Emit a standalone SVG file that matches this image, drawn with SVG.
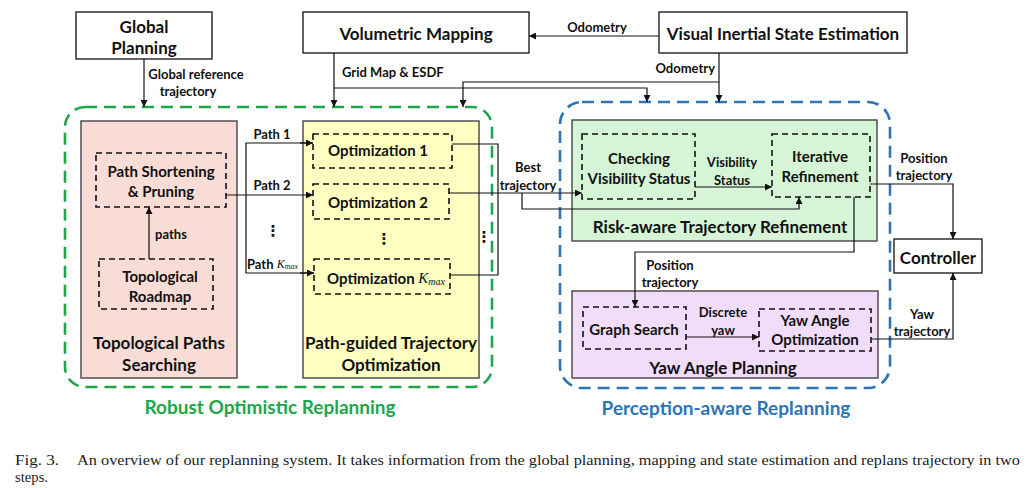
<svg xmlns="http://www.w3.org/2000/svg" width="1030" height="488" viewBox="0 0 1030 488">
<defs>
<marker id="ah" viewBox="0 0 10 10" refX="10" refY="5" markerWidth="7" markerHeight="7" markerUnits="userSpaceOnUse" orient="auto">
<path d="M0,0 L10,5 L0,10 z" fill="#111"/>
</marker>
</defs>
<style>
text{font-family:Lato,"Open Sans","Liberation Sans",sans-serif;font-weight:bold;fill:#111;text-anchor:middle;dominant-baseline:central}
.big{font-size:17px}
.grpt{font-size:19px}
.mid{font-size:15px}
.lab{font-size:13px}
.box{fill:#fff;stroke:#222;stroke-width:1.4}
.dash{fill:none;stroke:#111;stroke-width:1.6;stroke-dasharray:6 4}
.area{stroke:#444;stroke-width:1.4}
.con{fill:none;stroke:#111;stroke-width:1.2}
.arr{marker-end:url(#ah)}
.grp{fill:none;stroke-width:2.6;stroke-dasharray:12 7}
.dots{font-family:"DejaVu Sans",sans-serif;font-size:15px}
.cap{font-family:"Liberation Serif","Times New Roman",serif;font-weight:normal;font-size:15.5px;text-anchor:start;dominant-baseline:alphabetic;fill:#222}
.sym{font-family:"Liberation Serif",serif;font-style:italic;font-weight:normal}
</style>

<g id="robust-group">
<rect x="65" y="107" width="427" height="280" rx="20" class="grp" stroke="#1fa64b"/>
<text x="270" y="406" class="grpt" style="fill:#1fa64b">Robust Optimistic Replanning</text>
</g>
<g id="perception-group">
<rect x="560" y="102" width="330" height="286" rx="22" class="grp" stroke="#2e75b6"/>
<text x="726" y="407" class="grpt" style="fill:#2e75b6">Perception-aware Replanning</text>
</g>

<g id="global-planning">
<rect x="76" y="12" width="136" height="47" class="box"/>
<text x="144" y="26" class="big">Global</text>
<text x="144" y="47" class="big">Planning</text>
</g>
<g id="volumetric-mapping">
<rect x="303" y="12" width="226" height="41" class="box"/>
<text x="416" y="33" class="big">Volumetric Mapping</text>
</g>
<g id="vise">
<rect x="659" y="12" width="248" height="41" class="box"/>
<text x="783" y="33" class="big">Visual Inertial State Estimation</text>
</g>
<g id="controller">
<rect x="894" y="239" width="88" height="34" class="box"/>
<text x="938" y="257" class="big">Controller</text>
</g>

<g id="topological-paths-searching">
<rect x="81" y="121" width="156" height="257" class="area" fill="#f8dcd5"/>
<text x="159" y="342" class="big">Topological Paths</text>
<text x="159" y="364" class="big">Searching</text>
</g>
<g id="path-shortening">
<rect x="96" y="153" width="130" height="54" class="dash"/>
<text x="161" y="171" class="mid">Path Shortening</text>
<text x="161" y="191" class="mid">&amp; Pruning</text>
</g>
<g id="topological-roadmap">
<rect x="99" y="259" width="114" height="50" class="dash"/>
<text x="160" y="276" class="mid">Topological</text>
<text x="160" y="296" class="mid">Roadmap</text>
</g>

<g id="path-guided-optimization">
<rect x="303" y="121" width="176" height="257" class="area" fill="#ffffc2"/>
<text x="391" y="342" class="big">Path-guided Trajectory</text>
<text x="391" y="364" class="big">Optimization</text>
<text x="384" y="239" class="dots">⋮</text>
</g>
<g id="optimization-1">
<rect x="313" y="134" width="139" height="34" class="dash"/>
<text x="378" y="150" class="mid">Optimization 1</text>
</g>
<g id="optimization-2">
<rect x="313" y="184" width="136" height="35" class="dash"/>
<text x="378" y="202" class="mid">Optimization 2</text>
</g>
<g id="optimization-kmax">
<rect x="314" y="259" width="136" height="35" class="dash"/>
<text x="386" y="278" class="mid">Optimization <tspan class="sym" font-size="15">K</tspan><tspan class="sym" font-size="10" dy="3">max</tspan></text>
</g>

<g id="risk-aware-refinement">
<rect x="572" y="120" width="305" height="121" class="area" fill="#d6f5d6"/>
<text x="720" y="226" class="big">Risk-aware Trajectory Refinement</text>
</g>
<g id="checking-visibility">
<rect x="582" y="134" width="113" height="65" class="dash"/>
<text x="639" y="158" class="mid">Checking</text>
<text x="639" y="178" class="mid">Visibility Status</text>
</g>
<g id="iterative-refinement">
<rect x="772" y="134" width="98" height="63" class="dash"/>
<text x="820" y="156" class="mid">Iterative</text>
<text x="820" y="176" class="mid">Refinement</text>
</g>

<g id="yaw-angle-planning">
<rect x="572" y="291" width="306" height="87" class="area" fill="#f1dcf9"/>
<text x="723" y="367" class="big">Yaw Angle Planning</text>
</g>
<g id="graph-search">
<rect x="583" y="307" width="103" height="42" class="dash"/>
<text x="634" y="329" class="mid">Graph Search</text>
</g>
<g id="yaw-angle-optimization">
<rect x="759" y="309" width="112" height="42" class="dash"/>
<text x="815" y="320" class="mid">Yaw Angle</text>
<text x="815" y="339" class="mid">Optimization</text>
</g>

<g id="connectors">
<path d="M144,59 V107" class="con arr"/>
<text x="196" y="74" class="lab">Global reference</text>
<text x="188" y="91" class="lab">trajectory</text>

<path d="M334,53 V107" class="con arr"/>
<text x="342" y="72" class="lab" style="text-anchor:start">Grid Map &amp; ESDF</text>
<path d="M334,88 H647 V102" class="con arr"/>

<path d="M659,36 H529" class="con arr"/>
<text x="597" y="27" class="lab">Odometry</text>
<path d="M719,53 V102" class="con arr"/>
<text x="715" y="68" class="lab" style="text-anchor:end">Odometry</text>
<path d="M719,82 H463 V107" class="con arr"/>

<path d="M149,259 V207" class="con arr"/>
<text x="171" y="234" class="lab">paths</text>

<path d="M226,195 H313" class="con arr"/>
<path d="M313,143 H246 V273 H314" class="con"/>
<path d="M300,143 H313" class="con arr"/>
<path d="M300,273 H314" class="con arr"/>
<text x="272" y="134" class="lab">Path 1</text>
<text x="272" y="185" class="lab">Path 2</text>
<text x="273" y="231" class="dots">⋮</text>
<text x="247" y="264" class="lab" style="text-anchor:start">Path <tspan class="sym" font-size="12">K</tspan><tspan class="sym" font-size="8" dy="2">max</tspan></text>

<path d="M452,144 H498 V275 H450" class="con"/>
<text x="484" y="237" class="dots">⋮</text>
<path d="M449,193 H582" class="con arr"/>
<text x="528" y="167" class="lab">Best</text>
<text x="528" y="185" class="lab">trajectory</text>
<path d="M522,193 V209 H799 V197" class="con arr"/>

<path d="M695,187 H772" class="con arr"/>
<text x="732" y="162" class="lab">Visibility</text>
<text x="732" y="180" class="lab">Status</text>

<path d="M870,184 H953 V239" class="con arr"/>
<text x="924" y="158" class="lab">Position</text>
<text x="924" y="175" class="lab">trajectory</text>

<path d="M854,197 V252 H635 V307" class="con arr"/>
<text x="670" y="265" class="lab">Position</text>
<text x="670" y="282" class="lab">trajectory</text>

<path d="M686,337 H759" class="con arr"/>
<text x="723" y="312" class="lab">Discrete</text>
<text x="723" y="330" class="lab">yaw</text>

<path d="M871,339 H953 V273" class="con arr"/>
<text x="922" y="314" class="lab">Yaw</text>
<text x="922" y="331" class="lab">trajectory</text>
</g>

<text x="15" y="465" class="cap" textLength="44" lengthAdjust="spacingAndGlyphs">Fig. 3.</text>
<text x="77" y="465" class="cap" textLength="943" lengthAdjust="spacingAndGlyphs">An overview of our replanning system. It takes information from the global planning, mapping and state estimation and replans trajectory in two</text>
<text x="15" y="482" class="cap" textLength="33" lengthAdjust="spacingAndGlyphs">steps.</text>
</svg>
